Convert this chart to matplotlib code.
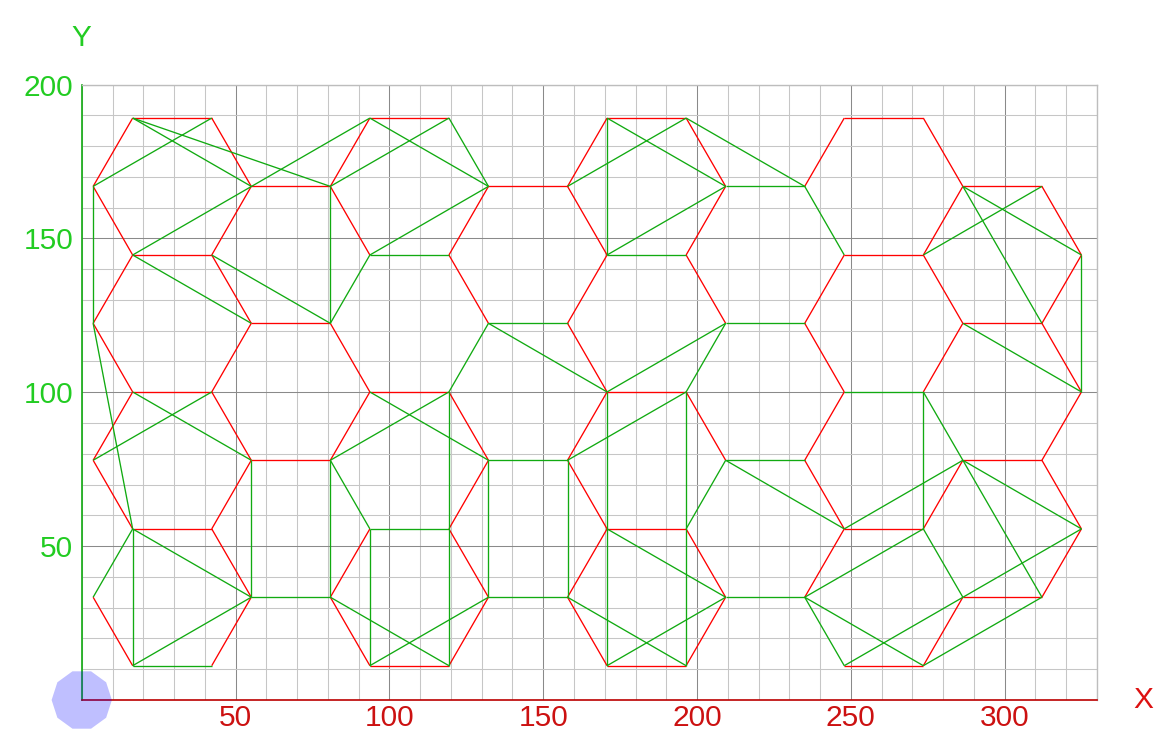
import numpy as np
import matplotlib.pyplot as plt
from matplotlib.patches import RegularPolygon
from matplotlib.collections import LineCollection

plt.rcParams['font.family'] = ['Liberation Sans', 'DejaVu Sans']

# honeycomb vertex lattice
vx = [3.7, 16.55, 42.25, 55.1, 80.8, 93.65, 119.35, 132.2, 157.9, 170.75,
      196.45, 209.3, 235.0, 247.85, 273.55, 286.4, 312.1, 324.95]
vy = [11.15, 33.4, 55.6, 77.9, 100.1, 122.4, 144.6, 166.9, 189.1]

# segments as (i, j) vertex index pairs
red_edges = [
    ((0, 7), (1, 8)), ((1, 8), (2, 8)), ((2, 8), (3, 7)), ((3, 7), (2, 6)), ((2, 6), (1, 6)), ((1, 6), (0, 7)),
    ((0, 5), (1, 6)), ((2, 6), (3, 5)), ((3, 5), (2, 4)), ((2, 4), (1, 4)), ((1, 4), (0, 5)),
    ((0, 3), (1, 4)), ((2, 4), (3, 3)), ((3, 3), (2, 2)), ((2, 2), (1, 2)), ((1, 2), (0, 3)),
    ((2, 2), (3, 1)), ((3, 1), (2, 0)), ((1, 0), (0, 1)),
    ((3, 7), (4, 7)), ((4, 7), (5, 6)), ((4, 5), (3, 5)),
    ((4, 5), (5, 4)), ((5, 4), (4, 3)), ((4, 3), (3, 3)), ((5, 2), (4, 1)),
    ((4, 7), (5, 8)), ((5, 8), (6, 8)), ((7, 7), (6, 6)), ((6, 6), (7, 5)), ((6, 4), (5, 4)),
    ((6, 4), (7, 3)), ((7, 3), (6, 2)), ((6, 2), (7, 1)), ((7, 1), (6, 0)), ((6, 0), (5, 0)), ((5, 0), (4, 1)),
    ((7, 7), (8, 7)), ((8, 7), (9, 6)), ((9, 6), (8, 5)), ((8, 5), (9, 4)), ((9, 4), (8, 3)),
    ((8, 3), (9, 2)), ((9, 2), (8, 1)),
    ((8, 7), (9, 8)), ((9, 8), (10, 8)), ((10, 8), (11, 7)), ((11, 7), (10, 6)), ((10, 6), (11, 5)),
    ((10, 4), (9, 4)), ((10, 4), (11, 3)), ((10, 2), (9, 2)), ((10, 2), (11, 1)), ((11, 1), (10, 0)),
    ((10, 0), (9, 0)), ((9, 0), (8, 1)),
    ((13, 6), (12, 5)), ((12, 5), (13, 4)), ((13, 4), (12, 3)), ((12, 3), (13, 2)), ((13, 2), (12, 1)),
    ((12, 7), (13, 8)), ((13, 8), (14, 8)), ((14, 8), (15, 7)), ((15, 7), (14, 6)), ((14, 6), (13, 6)),
    ((14, 6), (15, 5)), ((15, 5), (14, 4)), ((15, 3), (14, 2)), ((14, 2), (13, 2)),
    ((15, 1), (14, 0)), ((14, 0), (13, 0)),
    ((15, 7), (16, 7)), ((16, 7), (17, 6)), ((17, 6), (16, 5)), ((16, 5), (15, 5)),
    ((16, 5), (17, 4)), ((17, 4), (16, 3)), ((16, 3), (15, 3)),
    ((16, 3), (17, 2)), ((17, 2), (16, 1)), ((16, 1), (15, 1)),
]

green_edges = [
    # green hexagon sides
    ((5, 6), (4, 5)), ((6, 8), (7, 7)), ((6, 6), (5, 6)), ((7, 5), (6, 4)), ((6, 2), (5, 2)),
    ((5, 2), (4, 3)), ((4, 1), (3, 1)), ((8, 5), (7, 5)), ((8, 3), (7, 3)), ((8, 1), (7, 1)),
    ((10, 6), (9, 6)), ((11, 5), (10, 4)), ((11, 3), (10, 2)), ((11, 7), (12, 7)), ((12, 7), (13, 6)),
    ((12, 5), (11, 5)), ((12, 3), (11, 3)), ((12, 1), (11, 1)), ((13, 4), (14, 4)), ((14, 4), (15, 3)),
    ((14, 2), (15, 1)), ((13, 0), (12, 1)), ((0, 1), (1, 2)), ((2, 0), (1, 0)),
    # diagonals
    ((1, 8), (3, 7)), ((1, 8), (4, 7)), ((2, 8), (0, 7)), ((1, 6), (5, 8)), ((0, 7), (0, 5)),
    ((4, 7), (4, 5)), ((4, 7), (6, 8)), ((5, 8), (7, 7)), ((7, 7), (5, 6)), ((8, 7), (10, 8)),
    ((1, 6), (3, 5)), ((2, 6), (4, 5)), ((0, 5), (1, 2)), ((1, 4), (3, 3)), ((2, 4), (0, 3)),
    ((3, 3), (3, 1)), ((4, 3), (4, 1)), ((4, 3), (6, 4)), ((5, 4), (7, 3)), ((6, 4), (6, 0)),
    ((7, 3), (7, 1)), ((8, 3), (8, 1)), ((8, 3), (10, 4)), ((7, 5), (9, 4)), ((9, 4), (11, 5)),
    ((9, 4), (9, 0)), ((10, 4), (10, 0)), ((11, 3), (13, 2)), ((9, 2), (11, 1)), ((8, 1), (10, 0)),
    ((9, 0), (11, 1)), ((12, 1), (14, 2)), ((12, 1), (14, 0)), ((5, 2), (5, 0)), ((4, 1), (6, 0)),
    ((5, 0), (7, 1)), ((1, 2), (1, 0)), ((1, 2), (3, 1)), ((1, 0), (3, 1)), ((9, 8), (9, 6)),
    ((9, 8), (11, 7)), ((10, 8), (12, 7)), ((9, 6), (11, 7)), ((14, 6), (16, 7)), ((15, 7), (17, 6)),
    ((15, 7), (16, 5)), ((17, 6), (17, 4)), ((15, 5), (17, 4)), ((14, 4), (14, 2)), ((15, 3), (13, 2)),
    ((15, 3), (16, 1)), ((15, 3), (17, 2)), ((13, 0), (17, 2)), ((14, 0), (16, 1)),
]

x_ticks = [50, 100, 150, 200, 250, 300]
y_ticks = [50, 100, 150, 200]


def to_xy(edges):
    return [[(vx[a[0]], vy[a[1]]), (vx[b[0]], vy[b[1]])] for a, b in edges]


fig = plt.figure(figsize=(11.73, 7.42), dpi=100)
ax = fig.add_axes([0.0697, 0.0566, 0.8655, 0.8295])
ax.set_xlim(0, 330)
ax.set_ylim(0, 200)

ax.set_xticks(x_ticks)
ax.set_yticks(y_ticks)
ax.set_xticks(np.arange(0, 331, 10), minor=True)
ax.set_yticks(np.arange(0, 201, 10), minor=True)
ax.grid(which='major', color='#8a8a8a', lw=0.75)
ax.grid(which='minor', color='#c6c6c6', lw=0.75)
ax.set_axisbelow(True)
ax.tick_params(which='both', length=0)
ax.tick_params(axis='x', colors='#cc1111', labelsize=21.5, pad=3)
ax.tick_params(axis='y', colors='#22cc22', labelsize=21.5, pad=6)

ax.spines['top'].set_color('#bdbdbd')
ax.spines['right'].set_color('#bdbdbd')
ax.spines['top'].set_linewidth(1.0)
ax.spines['right'].set_linewidth(1.0)
ax.spines['left'].set_color('#11aa11')
ax.spines['left'].set_linewidth(1.2)
ax.spines['bottom'].set_color('#bb0000')
ax.spines['bottom'].set_linewidth(1.2)

ax.add_collection(LineCollection(to_xy(red_edges), colors='#ff0000', linewidths=0.95, zorder=3))
ax.add_collection(LineCollection(to_xy(green_edges), colors='#11aa11', linewidths=0.95, zorder=4))

ax.add_patch(RegularPolygon((0, 0), numVertices=10, radius=9.8, orientation=np.pi / 10,
                            facecolor='blue', edgecolor='none', alpha=0.25, clip_on=False, zorder=6))

ax.text(0, 1.0756, 'Y', transform=ax.transAxes, ha='center', va='center', fontsize=21.5, color='#22cc22')
ax.text(1.0453, 0, 'X', transform=ax.transAxes, ha='center', va='center', fontsize=21.5, color='#dd1111')

fig.savefig('out.png', dpi=100)
